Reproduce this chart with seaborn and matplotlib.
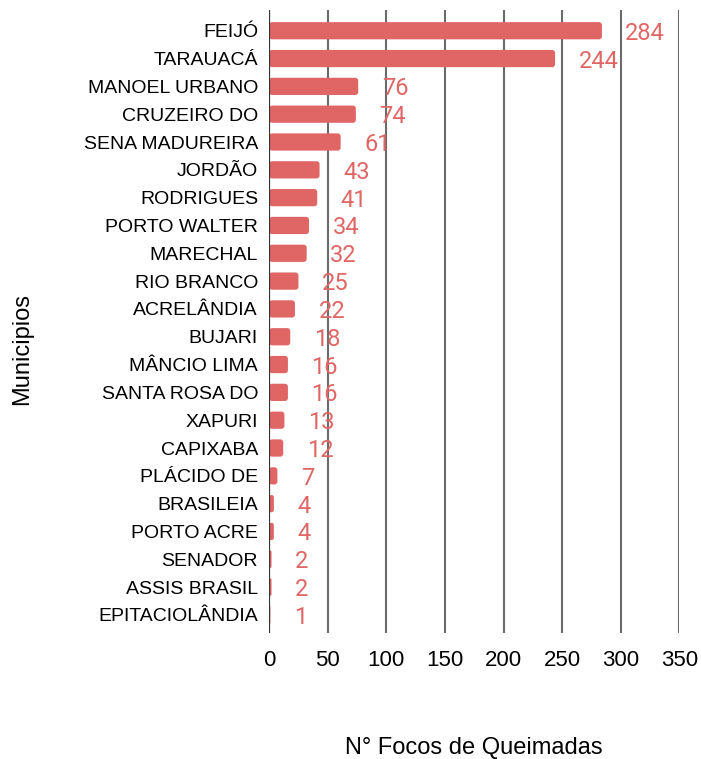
import matplotlib
matplotlib.use("Agg")
import matplotlib.pyplot as plt
import seaborn as sns
import pandas as pd
from matplotlib.patches import FancyBboxPatch

municipios = ["FEIJÓ", "TARAUACÁ", "MANOEL URBANO", "CRUZEIRO DO", "SENA MADUREIRA",
              "JORDÃO", "RODRIGUES", "PORTO WALTER", "MARECHAL", "RIO BRANCO",
              "ACRELÂNDIA", "BUJARI", "MÂNCIO LIMA", "SANTA ROSA DO", "XAPURI",
              "CAPIXABA", "PLÁCIDO DE", "BRASILEIA", "PORTO ACRE", "SENADOR",
              "ASSIS BRASIL", "EPITACIOLÂNDIA"]
focos = [284, 244, 76, 74, 61, 43, 41, 34, 32, 25, 22, 18, 16, 16, 13, 12, 7, 4, 4, 2, 2, 1]
xticks = [0, 50, 100, 150, 200, 250, 300, 350]

df = pd.DataFrame({"Municipios": municipios, "Focos": focos})

sns.set_theme(style="white")
plt.rcParams['font.family'] = ['Liberation Sans', 'DejaVu Sans']

fig = plt.figure(figsize=(7.01, 7.59), dpi=100)
ax = fig.add_axes([0.384, 0.166, 0.585, 0.821])

color = "#e06666"
sns.barplot(data=df, x="Focos", y="Municipios", color=color, width=0.62,
            saturation=1, ax=ax, zorder=3)

# rounded bar ends
px_per_x = 410 / 350
px_per_y = 28.3
for p in list(ax.patches):
    x, y = p.get_x(), p.get_y()
    w, h = p.get_width(), p.get_height()
    r = min(3.0 / px_per_x, w / 2)
    aspect = (1 / px_per_y) / (1 / px_per_x)
    fb = FancyBboxPatch((x, y), w, h,
                        boxstyle=f"round,pad=0,rounding_size={r}",
                        mutation_aspect=aspect, facecolor=color,
                        edgecolor="none", zorder=3)
    p.remove()
    ax.add_patch(fb)

for i, v in enumerate(focos):
    ax.text(v + 20, i, str(v), color=color, fontsize=17, va="center_baseline",
            ha="left", zorder=4, family=["Roboto", "DejaVu Sans"])

ax.set_xlim(0, 350)
ax.set_ylim(21.65, -0.75)
ax.set_xticks(xticks)
ax.set_xticklabels([str(t) for t in xticks], fontsize=16)
ax.tick_params(axis="x", pad=12, length=0)
ax.tick_params(axis="y", pad=8, length=0, labelsize=14)
for t in ax.get_yticklabels():
    t.set_color("black")
for t in ax.get_xticklabels():
    t.set_color("black")

for xv in xticks[1:]:
    ax.axvline(xv, color="#6b6b6b", lw=1.5, zorder=1)
ax.axvline(0, color="#333333", lw=1.6, zorder=5)

for s in ax.spines.values():
    s.set_visible(False)

ax.set_xlabel("N° Focos de Queimadas", fontsize=17, labelpad=48, color="black")
ax.set_ylabel("Municipios", fontsize=17, color="black")
ax.yaxis.set_label_coords(-0.575, 0.455)
ax.grid(False)

fig.savefig("out.png", dpi=100)
